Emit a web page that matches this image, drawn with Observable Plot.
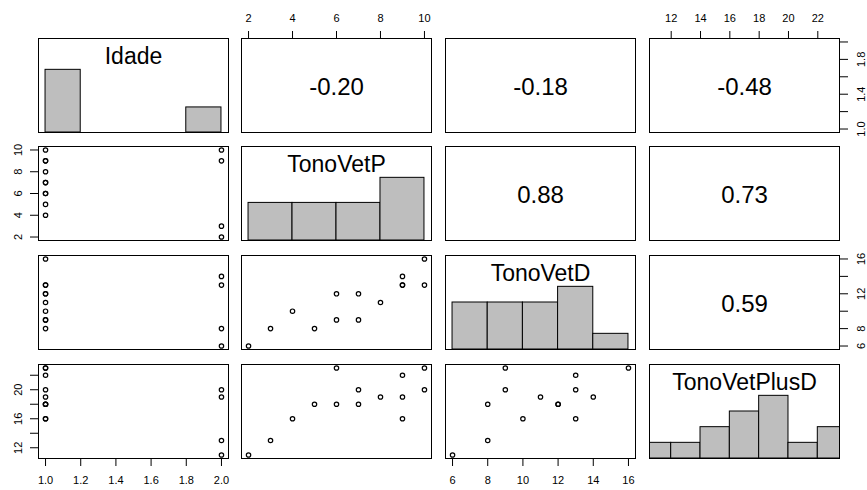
<!DOCTYPE html>
<html>
<head>
<meta charset="utf-8">
<script src="https://cdn.jsdelivr.net/npm/d3@7"></script>
<script src="https://cdn.jsdelivr.net/npm/@observablehq/plot@0.6"></script>
<style>
  body { margin: 0; background: #fff; }
  #grid { position: relative; width: 867px; height: 490px; overflow: hidden; background: #fff;
          font-family: "Liberation Sans", Arial, sans-serif; }
  #grid svg { position: absolute; }
</style>
</head>
<body>
<div id="grid"></div>
<script>
// Observations (one entry per subject)
const idade        = [1, 1, 1, 1, 1, 1, 1, 1, 1, 1, 2, 2, 2, 2];
const tonoVetP     = [4, 5, 6, 6, 7, 7, 8, 9, 9, 10, 2, 3, 9, 10];
const tonoVetD     = [10, 8, 12, 9, 9, 12, 11, 13, 13, 16, 6, 8, 14, 13];
const tonoVetPlusD = [16, 18, 18, 23, 20, 18, 19, 22, 16, 23, 11, 13, 19, 20];

const varNames = ["Idade", "TonoVetP", "TonoVetD", "TonoVetPlusD"];

// Histogram break points (right-closed bins, lowest bin closed)
const breaksIdade = [1.0, 1.2, 1.4, 1.6, 1.8, 2.0];
const breaksP     = [2, 4, 6, 8, 10];
const breaksD     = [6, 8, 10, 12, 14, 16];
const breaksPlusD = [10, 12, 14, 16, 18, 20, 22, 24];

// Axis ticks and the ticks that carry a label
const ticksIdade = [1.0, 1.2, 1.4, 1.6, 1.8, 2.0];
const ticksP     = [2, 4, 6, 8, 10];
const ticksD     = [6, 8, 10, 12, 14, 16];
const ticksPlusD = [12, 14, 16, 18, 20, 22];
const labelsIdadeRight = [1.0, 1.4, 1.8];
const labelsDRight     = [6, 8, 12, 16];
const labelsPlusDLeft  = [12, 16, 20];

// ---- panel geometry ----
const colLeft = [38, 241, 445, 649];
const rowTop  = [38, 146, 255, 364];
const PW = 190, PH = 94, M = 46;
const TICK_FONT = 11;

const extend = (vals) => {
  const [lo, hi] = d3.extent(vals);
  const pad = (hi - lo) * 0.04;
  return [lo - pad, hi + pad];
};

const vars = [
  {name: varNames[0], values: idade,        breaks: breaksIdade, ticks: ticksIdade, fmt: d3.format(".1f")},
  {name: varNames[1], values: tonoVetP,     breaks: breaksP,     ticks: ticksP,     fmt: d3.format("d")},
  {name: varNames[2], values: tonoVetD,     breaks: breaksD,     ticks: ticksD,     fmt: d3.format("d")},
  {name: varNames[3], values: tonoVetPlusD, breaks: breaksPlusD, ticks: ticksPlusD, fmt: d3.format("d")}
];
vars.forEach(v => v.domain = extend(v.values));

function histBins(values, breaks) {
  const bins = [];
  for (let k = 0; k < breaks.length - 1; k++) {
    const lo = breaks[k], hi = breaks[k + 1];
    const n = values.filter(v => (k === 0 ? v >= lo : v > lo) && v <= hi).length;
    bins.push({x1: lo, x2: hi, count: n});
  }
  const mx = d3.max(bins, b => b.count);
  return bins.map(b => ({...b, h: b.count / mx}));
}

function pearson(a, b) {
  const ma = d3.mean(a), mb = d3.mean(b);
  let sab = 0, saa = 0, sbb = 0;
  for (let k = 0; k < a.length; k++) {
    sab += (a[k] - ma) * (b[k] - mb);
    saa += (a[k] - ma) ** 2;
    sbb += (b[k] - mb) ** 2;
  }
  return sab / Math.sqrt(saa * sbb);
}

const labelled = (fmt, keep) => d => (keep == null || keep.some(k => Math.abs(k - d) < 1e-9)) ? fmt(d) : "";

const grid = document.getElementById("grid");

for (let i = 0; i < 4; i++) {
  for (let j = 0; j < 4; j++) {
    const vx = vars[j], vy = vars[i];
    const marks = [];

    if (i === j) {
      const bins = histBins(vx.values, vx.breaks).filter(b => b.count > 0);
      marks.push(Plot.rect(bins, {x1: "x1", x2: "x2", y1: 0, y2: "h",
        fill: "#bebebe", stroke: "black", strokeWidth: 1, clip: true}));
      marks.push(Plot.text([vx.name], {frameAnchor: "top", lineAnchor: "bottom", dy: 25,
        fontSize: 23, fill: "black"}));
    } else if (i > j) {
      const pts = vx.values.map((x, k) => ({x, y: vy.values[k]}));
      marks.push(Plot.dot(pts, {x: "x", y: "y", r: 2.2, stroke: "black", strokeWidth: 1.2, fill: "none"}));
    } else {
      const r = pearson(vx.values, vy.values);
      marks.push(Plot.text([r.toFixed(2)], {frameAnchor: "middle", dy: 2, fontSize: 24, fill: "black"}));
    }

    // outer axes, alternating sides as in a scatterplot matrix
    if (i === 0 && j % 2 === 1) {
      marks.push(Plot.axisX({anchor: "top", ticks: vx.ticks, tickSize: 8, tickPadding: 9,
        tickFormat: labelled(vx.fmt), fontSize: TICK_FONT, label: null}));
    }
    if (i === 3 && j % 2 === 0) {
      marks.push(Plot.axisX({anchor: "bottom", ticks: vx.ticks, tickSize: 8, tickPadding: 10,
        tickFormat: labelled(vx.fmt), fontSize: TICK_FONT, label: null}));
    }
    if (j === 0 && i % 2 === 1) {
      const keep = i === 3 ? labelsPlusDLeft : null;
      marks.push(Plot.axisY({anchor: "left", ticks: vy.ticks, tickSize: 8, tickPadding: 9,
        tickRotate: -90, textAnchor: "middle", lineAnchor: "bottom",
        tickFormat: labelled(vy.fmt, keep), fontSize: TICK_FONT, label: null}));
    }
    if (j === 3 && i % 2 === 0) {
      const keep = i === 0 ? labelsIdadeRight : labelsDRight;
      marks.push(Plot.axisY({anchor: "right", ticks: vy.ticks, tickSize: 8, tickPadding: 10,
        tickRotate: -90, textAnchor: "middle", lineAnchor: "top",
        tickFormat: labelled(vy.fmt, keep), fontSize: TICK_FONT, label: null}));
    }

    marks.push(Plot.frame({stroke: "black", strokeWidth: 1}));

    const svg = Plot.plot({
      width: PW + 2 * M,
      height: PH + 2 * M,
      marginLeft: M, marginRight: M, marginTop: M, marginBottom: M,
      x: {domain: vx.domain, axis: null},
      y: {domain: i === j ? [0, 1.5] : vy.domain, axis: null},
      style: {background: "none", overflow: "visible", color: "black",
              fontFamily: "'Liberation Sans', Arial, sans-serif"},
      marks
    });
    svg.style.left = (colLeft[j] - M) + "px";
    svg.style.top = (rowTop[i] - M) + "px";
    grid.appendChild(svg);
  }
}
</script>
</body>
</html>
